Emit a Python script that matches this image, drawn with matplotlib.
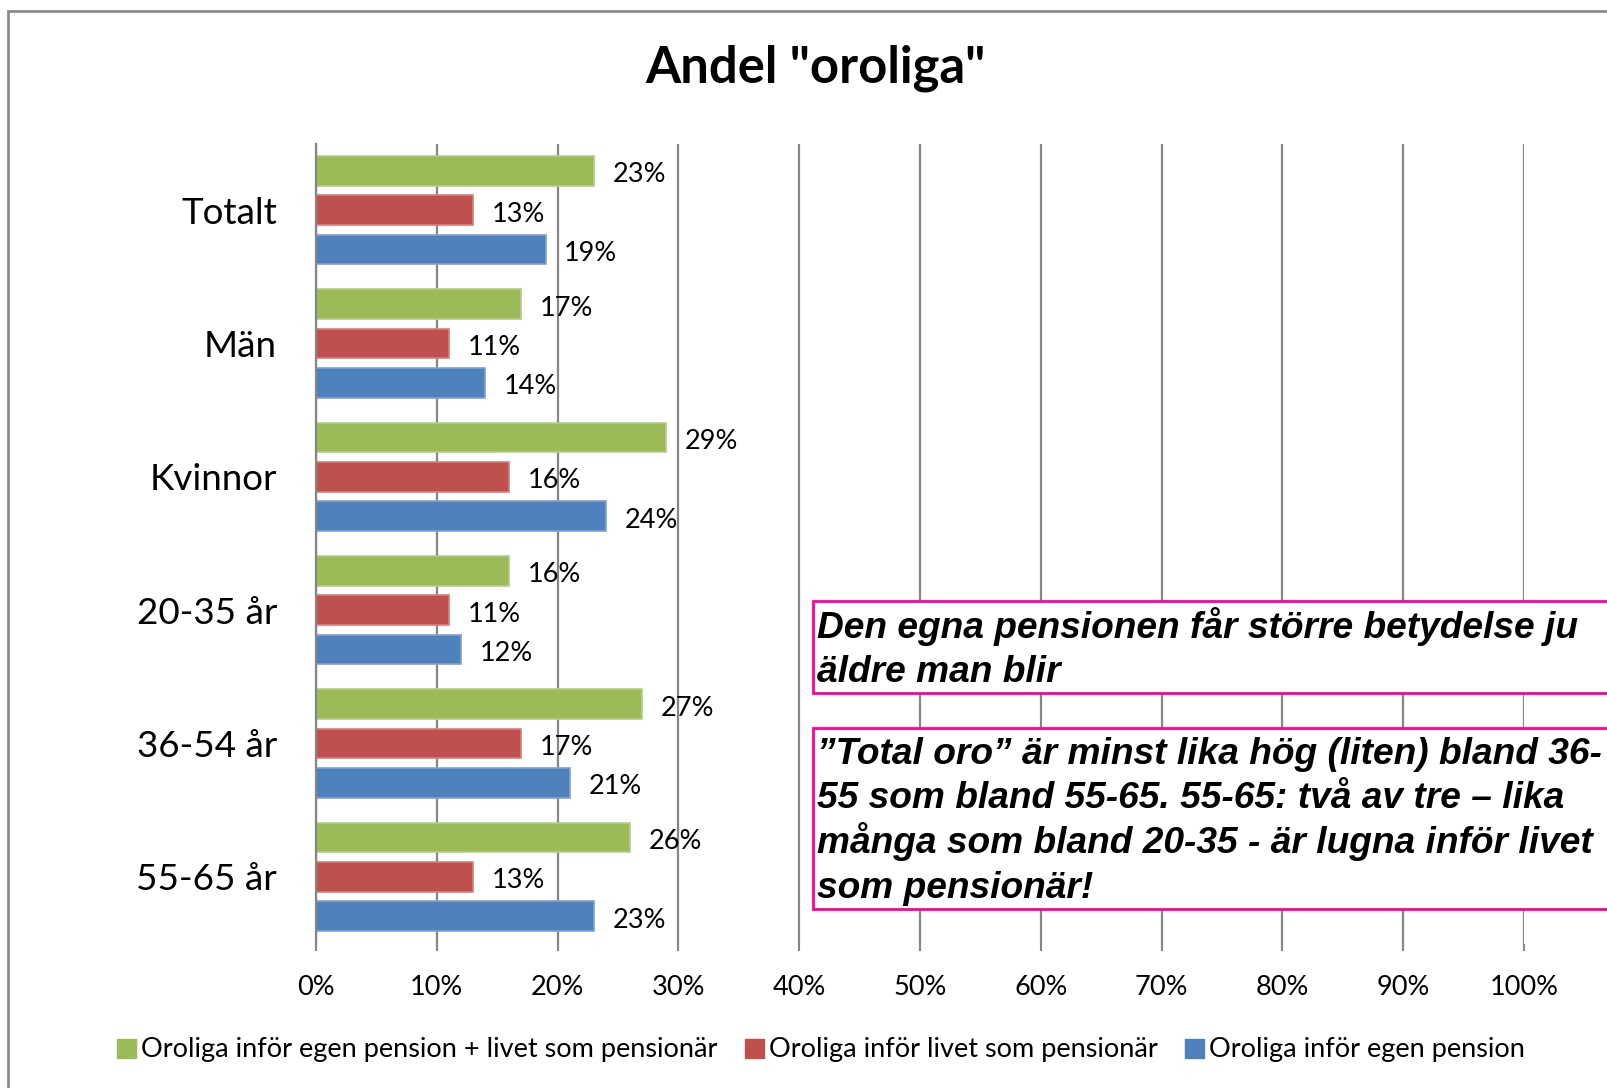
import matplotlib
matplotlib.use("Agg")
import matplotlib.pyplot as plt
from matplotlib.patches import Rectangle, Patch
import numpy as np

# ---- data ----
categories = ["Totalt", "Män", "Kvinnor", "20-35 år", "36-54 år", "55-65 år"]
series_names = ["Oroliga inför egen pension + livet som pensionär",
                "Oroliga inför livet som pensionär",
                "Oroliga inför egen pension"]
oro_total = [23, 17, 29, 16, 27, 26]      # green
oro_livet = [13, 11, 16, 11, 17, 13]      # red
oro_pension = [19, 14, 24, 12, 21, 23]    # blue
x_ticks = [0, 10, 20, 30, 40, 50, 60, 70, 80, 90, 100]
title = 'Andel "oroliga"'
box1_lines = ["Den egna pensionen får större betydelse ju", "äldre man blir"]
box2_lines = ["\u201dTotal oro\u201d är minst lika hög (liten) bland 36-",
              "55 som bland 55-65. 55-65: två av tre \u2013 lika",
              "många som bland 20-35 - är lugna inför livet",
              "som pensionär!"]

colors = ["#9BBB59", "#C0504D", "#4F81BD"]
edgecols = ["#B5CC85", "#D4807E", "#7FA3D1"]

W, H = 1608, 1088
fig = plt.figure(figsize=(W / 100, H / 100), dpi=100)
fig.patch.set_facecolor("white")

def fx(px):
    return px / W

def fy(py):
    return 1 - py / H

# outer chart border (extends past right/bottom edges)
fig.patches.append(Rectangle((fx(8), fy(1200)), fx(1700), fy(11) - fy(1200),
                             transform=fig.transFigure, fill=False,
                             edgecolor="#8C8C8C", linewidth=2, zorder=0))

ax_left, ax_right, ax_top, ax_bot = 316, 1524, 143.5, 943.5
ax = fig.add_axes([fx(ax_left), fy(ax_bot), fx(ax_right - ax_left), (ax_bot - ax_top) / H])

font = "Lato"
lab_size = 19.5
y = np.arange(len(categories))
pitch = 0.295
bh = 0.222
series = [oro_total, oro_livet, oro_pension]
for i, vals in enumerate(series):
    pos = y + (i - 1) * pitch
    v = np.array(vals) / 100.0
    ax.barh(pos, v, height=bh, color=colors[i], edgecolor=edgecols[i],
            linewidth=1.2, zorder=3)
    for p, val in zip(pos, vals):
        ax.annotate(f"{val}%", xy=(val / 100.0, p), xytext=(13.5, -2.8),
                    textcoords="offset points", ha="left", va="center",
                    fontsize=lab_size, family=font, color="black", zorder=4)

ax.set_xlim(0, 1.0)
ax.set_ylim(len(categories) - 0.5, -0.5)
ax.set_xticks(np.array(x_ticks) / 100.0)
ax.set_xticklabels([f"{t}%" for t in x_ticks], family=font, fontsize=lab_size)
ax.set_yticks(y)
ax.set_yticklabels(categories, family=font, fontsize=26.5)
ax.tick_params(axis="y", length=0, pad=28)
ax.tick_params(axis="x", length=5, width=1.5, color="#868686", pad=17.5, direction="out")
ax.grid(axis="x", color="#868686", linewidth=1.6, zorder=1)
ax.set_axisbelow(True)
for s in ["top", "right", "bottom"]:
    ax.spines[s].set_visible(False)
ax.spines["left"].set_color("#868686")
ax.spines["left"].set_linewidth(1.6)
ax.spines["left"].set_zorder(5)

# title
fig.text(fx(815), fy(82), title, ha="center", va="baseline", fontsize=36.5,
         fontweight="bold", family=font)

# text boxes
box_font = dict(family="Liberation Sans", fontweight="bold", fontstyle="italic",
                fontsize=26.75, color="black")
pink = "#FF0099"
fig.patches.append(Rectangle((fx(813), fy(693)), fx(900), fy(601) - fy(693),
                             transform=fig.transFigure, facecolor="white",
                             edgecolor=pink, linewidth=2, zorder=5))
for k, line in enumerate(box1_lines):
    fig.text(fx(817), fy(638 + k * 44.5), line, ha="left", va="baseline",
             zorder=6, **box_font)
fig.patches.append(Rectangle((fx(813), fy(909)), fx(900), fy(728) - fy(909),
                             transform=fig.transFigure, facecolor="white",
                             edgecolor=pink, linewidth=2, zorder=5))
for k, line in enumerate(box2_lines):
    fig.text(fx(817), fy(764 + k * 44.5), line, ha="left", va="baseline",
             zorder=6, **box_font)

# legend
handles = [Patch(facecolor=c, edgecolor=c) for c in colors]
leg = fig.legend(handles, series_names, loc="center", ncol=3,
                 bbox_to_anchor=(fx(821), fy(1050)), frameon=False,
                 prop=dict(family=font, size=lab_size), handlelength=0.7,
                 handleheight=0.7, handletextpad=0.2, columnspacing=1.0,
                 borderaxespad=0)

fig.savefig("out.png", dpi=100, facecolor="white")
